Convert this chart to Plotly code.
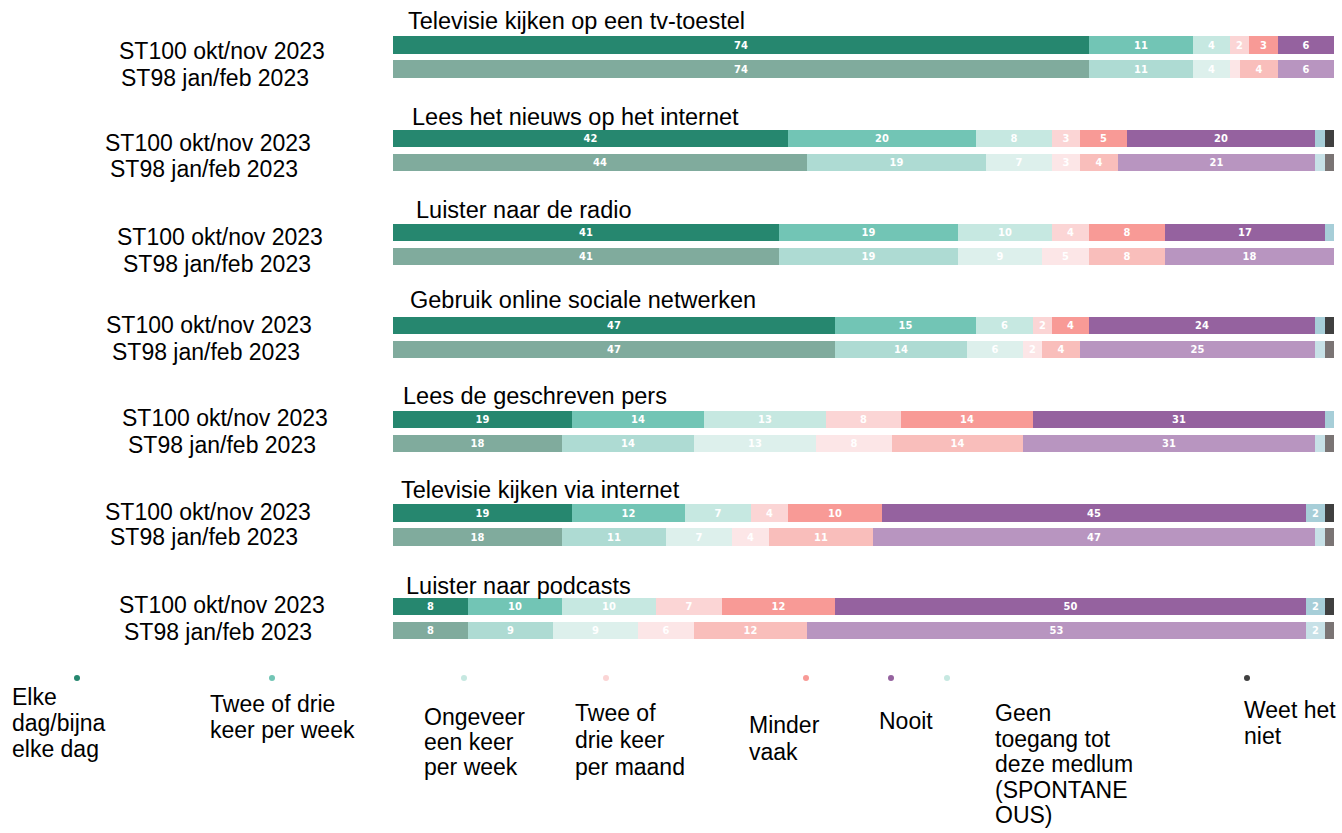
import plotly.graph_objects as go

W, H = 1342, 833

topics = ["Televisie kijken op een tv-toestel", "Lees het nieuws op het internet",
          "Luister naar de radio", "Gebruik online sociale netwerken",
          "Lees de geschreven pers", "Televisie kijken via internet",
          "Luister naar podcasts"]
surveys = ["ST100 okt/nov 2023", "ST98 jan/feb 2023"]
categories = ["Elke dag/bijna elke dag", "Twee of drie keer per week",
              "Ongeveer een keer per week", "Twee of drie keer per maand",
              "Minder vaak", "Nooit",
              "Geen toegang tot deze medlum (SPONTANEOUS)", "Weet het niet"]
legend_lines = [["Elke", "dag/bijna", "elke dag"],
                ["Twee of drie", "keer per week"],
                ["Ongeveer", "een keer", "per week"],
                ["Twee of", "drie keer", "per maand"],
                ["Minder", "vaak"],
                ["Nooit"],
                ["Geen", "toegang tot", "deze medlum", "(SPONTANE", "OUS)"],
                ["Weet het", "niet"]]

# ST100 okt/nov 2023
st100_elke = [74, 42, 41, 47, 19, 19, 8]
st100_twee_week = [11, 20, 19, 15, 14, 12, 10]
st100_een_week = [4, 8, 10, 6, 13, 7, 10]
st100_twee_maand = [2, 3, 4, 2, 8, 4, 7]
st100_minder = [3, 5, 8, 4, 14, 10, 12]
st100_nooit = [6, 20, 17, 24, 31, 45, 50]
st100_geen = [0, 1, 1, 1, 1, 2, 2]
st100_weet = [0, 1, 0, 1, 0, 1, 1]

# ST98 jan/feb 2023
st98_elke = [74, 44, 41, 47, 18, 18, 8]
st98_twee_week = [11, 19, 19, 14, 14, 11, 9]
st98_een_week = [4, 7, 9, 6, 13, 7, 9]
st98_twee_maand = [1, 3, 5, 2, 8, 4, 6]
st98_minder = [4, 4, 8, 4, 14, 11, 12]
st98_nooit = [6, 21, 18, 25, 31, 47, 53]
st98_geen = [0, 1, 0, 1, 1, 1, 2]
st98_weet = [0, 1, 0, 1, 1, 1, 1]

st100 = [st100_elke, st100_twee_week, st100_een_week, st100_twee_maand,
         st100_minder, st100_nooit, st100_geen, st100_weet]
st98 = [st98_elke, st98_twee_week, st98_een_week, st98_twee_maand,
        st98_minder, st98_nooit, st98_geen, st98_weet]

colors100 = ["#26876F", "#72C5B5", "#C6E8E1", "#FBD5D5", "#F89A96", "#95629F", "#A7CED8", "#404040"]
colors98 = ["#80AB9D", "#AEDBD3", "#DDF0EC", "#FCE6E7", "#F9BEBB", "#B895C0", "#C7E1E7", "#7A7474"]
legend_dot_colors = ["#26876F", "#72C5B5", "#C6E8E1", "#FBD5D5", "#F89A96", "#95629F", "#C6E8E1", "#404040"]

# ---- layout helpers (pixel -> paper) ----
def px(x):
    return x / W

def py(y):
    return 1 - y / H

GROUP_STEP = 3.9
ROW_PX = 24.0
FIRST_PX = 45.0
TOP_PX, BOT_PX = 20.0, 650.0
y_lo = (TOP_PX - FIRST_PX) / ROW_PX
y_hi = (BOT_PX - FIRST_PX) / ROW_PX

def ypos(g, j):
    return g * GROUP_STEP + j

def ypix(g, j):
    return FIRST_PX + ypos(g, j) * ROW_PX

fig = go.Figure()
for k, cat in enumerate(categories):
    for j, (data, cols) in enumerate([(st100, colors100), (st98, colors98)]):
        vals = data[k]
        fig.add_trace(go.Bar(
            orientation="h",
            x=vals,
            y=[ypos(g, j) for g in range(len(topics))],
            name=cat,
            marker=dict(color=cols[k], line=dict(width=0)),
            width=0.72,
            text=[str(v) if v >= 2 else "" for v in vals],
            textposition="inside",
            insidetextanchor="middle",
            textangle=0,
            constraintext="none",
            textfont=dict(family="DejaVu Sans Condensed, DejaVu Sans", size=11,
                          color="white", weight="bold"),
            showlegend=False,
            hoverinfo="x+name",
        ))

annotations = []
title_x = [406, 410, 414, 408, 401, 399, 404]
title_y = [21, 117, 210, 300, 396, 490, 586]
for g, t in enumerate(topics):
    annotations.append(dict(text=t, x=px(title_x[g]), y=py(title_y[g]), xref="paper", yref="paper",
                            xanchor="left", yanchor="middle", showarrow=False,
                            font=dict(size=23.5, color="black")))

lab_x = [(117, 119), (103, 108), (115, 121), (104, 110), (120, 126), (103, 108), (117, 122)]
lab_dy = [(6, 9), (4, 6), (5, 8), (-1, 2), (-1, 2), (-1, 0), (-2, 1)]
for g in range(len(topics)):
    for j in range(2):
        annotations.append(dict(text=surveys[j], x=px(lab_x[g][j]), y=py(ypix(g, j) + lab_dy[g][j]),
                                xref="paper", yref="paper", xanchor="left", yanchor="middle",
                                showarrow=False, font=dict(size=23, color="black")))

leg_dot_x = [77, 272, 464, 606, 806, 891, 947, 1247]
leg_lab_x = [10, 208, 422, 573, 747, 877, 993, 1242]
leg_first_line = [697, 704, 717, 713, 725, 721, 713, 710]
leg_line_step = [26, 26, 25, 27, 27, 26, 25.5, 26]
shapes = []
for i in range(len(categories)):
    shapes.append(dict(type="circle", xref="paper", yref="paper",
                       xsizemode="pixel", ysizemode="pixel",
                       xanchor=px(leg_dot_x[i]), yanchor=py(678),
                       x0=-3, x1=3, y0=-3, y1=3,
                       fillcolor=legend_dot_colors[i], line=dict(width=0)))
    for n, line in enumerate(legend_lines[i]):
        annotations.append(dict(text=line, x=px(leg_lab_x[i]),
                                y=py(leg_first_line[i] + n * leg_line_step[i]),
                                xref="paper", yref="paper", xanchor="left", yanchor="middle",
                                align="left", showarrow=False, font=dict(size=23, color="black")))

fig.update_layout(
    width=W, height=H,
    barmode="stack",
    plot_bgcolor="white", paper_bgcolor="white",
    margin=dict(l=0, r=0, t=0, b=0),
    font=dict(family="Liberation Sans, Arial, sans-serif", size=20, color="black"),
    xaxis=dict(domain=[px(393), px(1334)], range=[0, 100], visible=False),
    yaxis=dict(domain=[py(BOT_PX), py(TOP_PX)], range=[y_hi, y_lo], visible=False),
    annotations=annotations,
    shapes=shapes,
    bargap=0,
)

fig.write_html("out.html", config={"displayModeBar": False},
               post_script="document.body.style.margin='0';document.body.style.padding='0';document.body.style.overflow='hidden';")
